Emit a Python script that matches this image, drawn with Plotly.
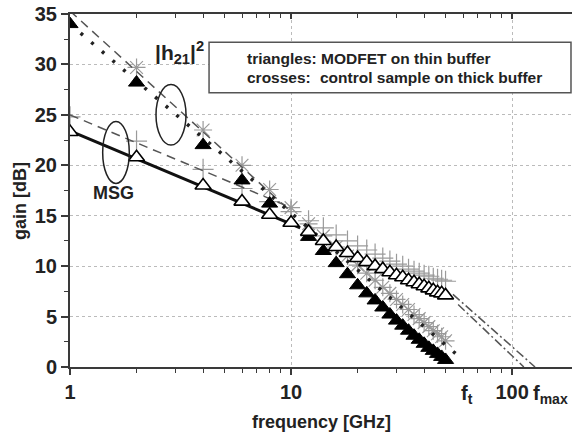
import plotly.graph_objects as go

# ---------------- data ----------------
freq = [1, 2, 4, 6, 8, 10, 12, 14, 16, 18, 20, 22, 24, 26, 28, 30,
        32, 34, 36, 38, 40, 42, 44, 46, 48, 50]
h21_thin = [34.0, 28.2, 22.0, 18.5, 16.2, 14.3, 12.9, 11.5, 10.3, 9.2, 8.1, 7.3, 6.6,
            5.9, 5.2, 4.6, 4.1, 3.6, 3.1, 2.7, 2.3, 1.9, 1.6, 1.3, 1.0, 0.7]
msg_thin = [23.3, 20.8, 18.0, 16.4, 15.1, 14.3, 13.4, 12.5, 11.9, 11.3, 10.8, 10.4, 10.0,
            9.7, 9.4, 9.1, 8.9, 8.6, 8.4, 8.2, 8.0, 7.8, 7.6, 7.4, 7.3, 7.1]
freq_ctrl_h21 = [2, 4, 6, 8, 10, 12, 14, 16, 18, 20, 22, 24, 26, 28, 30,
                 32, 34, 36, 38, 40, 42, 44, 46, 48, 50]
h21_ctrl = [29.7, 23.5, 20.0, 17.6, 15.8, 14.2, 13.0, 11.9, 11.0, 10.1, 9.3, 8.6, 7.9,
            7.3, 6.7, 6.2, 5.7, 5.2, 4.8, 4.4, 4.0, 3.6, 3.3, 3.0, 2.6]
msg_ctrl = [24.8, 22.4, 19.6, 17.7, 16.4, 15.4, 14.5, 13.8, 13.1, 12.5, 12.0, 11.6, 11.2,
            10.8, 10.5, 10.2, 10.0, 9.7, 9.5, 9.3, 9.1, 9.0, 8.8, 8.7, 8.6, 8.5]

# fit / extrapolation lines (endpoints)
fit_msg_thin_x, fit_msg_thin_y = [1, 11], [23.4, 13.8]
fit_h21_thin_x, fit_h21_thin_y = [1, 60], [34.0, 0.7]
fit_h21_ctrl_x, fit_h21_ctrl_y = [1, 10], [35.3, 15.4]
fit_msg_ctrl_x, fit_msg_ctrl_y = [1, 10], [25.0, 15.8]
ext_fmax1_x, ext_fmax1_y = [54, 127], [7.2, 0.0]
ext_fmax2_x, ext_fmax2_y = [57, 113], [6.2, 0.0]

x_ticks = [1, 10, 100]
x_ticklabels = ["1", "10", "100"]
y_ticks = [0, 5, 10, 15, 20, 25, 30, 35]

FONT = "Liberation Sans, Arial, sans-serif"
AX = "#3a3a3a"
GREY = "#9a9a9a"
TXT = "#222"

fig = go.Figure()

# crosses (control sample)
fig.add_trace(go.Scatter(x=freq, y=msg_ctrl, mode="markers",
                         marker=dict(symbol="cross-thin-open", size=15, color=GREY,
                                     line=dict(color=GREY, width=1.2)),
                         showlegend=False))
fig.add_trace(go.Scatter(x=freq_ctrl_h21, y=h21_ctrl, mode="markers",
                         marker=dict(symbol="asterisk-open", size=15, color=GREY,
                                     line=dict(color=GREY, width=1.2)),
                         showlegend=False))

# fit lines
fig.add_trace(go.Scatter(x=fit_h21_ctrl_x, y=fit_h21_ctrl_y, mode="lines",
                         line=dict(color="#555", width=1.5, dash="9px,6px"), showlegend=False))
fig.add_trace(go.Scatter(x=fit_msg_ctrl_x, y=fit_msg_ctrl_y, mode="lines",
                         line=dict(color="#555", width=1.5, dash="9px,6px"), showlegend=False))
fig.add_trace(go.Scatter(x=fit_h21_thin_x, y=fit_h21_thin_y, mode="lines",
                         line=dict(color="#222", width=3.5, dash="3px,11px"), showlegend=False))
fig.add_trace(go.Scatter(x=fit_msg_thin_x, y=fit_msg_thin_y, mode="lines",
                         line=dict(color="#111", width=3), showlegend=False))
fig.add_trace(go.Scatter(x=ext_fmax1_x, y=ext_fmax1_y, mode="lines",
                         line=dict(color="#555", width=1.5, dash="9px,3px,2px,3px"), showlegend=False))
fig.add_trace(go.Scatter(x=ext_fmax2_x, y=ext_fmax2_y, mode="lines",
                         line=dict(color="#555", width=1.5, dash="9px,3px,2px,3px"), showlegend=False))

# triangles (MODFET on thin buffer)
fig.add_trace(go.Scatter(x=freq, y=h21_thin, mode="markers",
                         marker=dict(symbol="triangle-up", size=14, color="black",
                                     line=dict(color="black", width=1)),
                         showlegend=False))
fig.add_trace(go.Scatter(x=freq, y=msg_thin, mode="markers",
                         marker=dict(symbol="triangle-up", size=14, color="white",
                                     line=dict(color="black", width=1.6)),
                         showlegend=False))

# invisible trace for the top axis
fig.add_trace(go.Scatter(x=[1, 100], y=[0, 0], xaxis="x2", mode="markers",
                         marker=dict(opacity=0), showlegend=False, hoverinfo="skip"))

xr = [0, 2.271]
fig.update_layout(
    width=572, height=435,
    margin=dict(l=70, r=0, t=14, b=68, autoexpand=False),
    paper_bgcolor="white", plot_bgcolor="white",
    font=dict(family=FONT, color=TXT),
    xaxis=dict(type="log", range=xr, tickvals=x_ticks, ticktext=x_ticklabels,
               ticks="outside", ticklen=6, tickwidth=1.5, tickcolor=AX, automargin=False,
               showline=True, linecolor=AX, linewidth=2,
               showgrid=True, gridcolor="#bbbbbb", griddash="dot", gridwidth=1,
               tickfont=dict(size=20, family=FONT, color=TXT, weight="bold"),
               minor=dict(ticks="outside", ticklen=4, tickwidth=1.2, tickcolor=AX,
                          dtick="D1", showgrid=False),
               zeroline=False),
    xaxis2=dict(type="log", range=xr, overlaying="x", side="top", automargin=False,
                ticks="inside", ticklen=5, tickwidth=1.5, tickcolor=AX,
                tickvals=x_ticks, showticklabels=False,
                showline=True, linecolor=AX, linewidth=2, showgrid=False,
                minor=dict(ticks="inside", ticklen=4, tickwidth=1.2, tickcolor=AX,
                           dtick="D1", showgrid=False)),
    yaxis=dict(range=[0, 35], tickvals=y_ticks, automargin=False,
               ticks="outside", ticklen=7, tickwidth=1.5, tickcolor=AX,
               showline=True, linecolor=AX, linewidth=2,
               showgrid=True, gridcolor="#bbbbbb", griddash="dot", gridwidth=1,
               tickfont=dict(size=20, family=FONT, color=TXT, weight="bold"),
               minor=dict(ticks="outside", ticklen=4, tickwidth=1.2, tickcolor=AX,
                          dtick=2.5, showgrid=False),
               zeroline=False),
    shapes=[
        dict(type="rect", xref="paper", yref="y", x0=0.277, x1=0.998, y0=27.2, y1=32.2,
             line=dict(color="#555", width=1.5), fillcolor="white"),
        dict(type="circle", xref="paper", yref="y", x0=0.0651, x1=0.1181, y0=18.2, y1=24.35,
             line=dict(color="#222", width=1.5)),
        dict(type="circle", xref="paper", yref="y", x0=0.1713, x1=0.2311, y0=22.0, y1=28.0,
             line=dict(color="#222", width=1.5)),
    ],
    annotations=[
        dict(text="<b>triangles:</b>", xref="paper", yref="y",
             x=0.348, y=30.63, xanchor="left", yanchor="middle", showarrow=False,
             font=dict(size=15.5, family=FONT, color=TXT)),
        dict(text="<b>MODFET on thin buffer</b>", xref="paper", yref="y",
             x=0.497, y=30.63, xanchor="left", yanchor="middle", showarrow=False,
             font=dict(size=15.5, family=FONT, color=TXT)),
        dict(text="<b>crosses:</b>", xref="paper", yref="y",
             x=0.348, y=28.75, xanchor="left", yanchor="middle", showarrow=False,
             font=dict(size=15.5, family=FONT, color=TXT)),
        dict(text="<b>control sample on thick buffer</b>", xref="paper", yref="y",
             x=0.494, y=28.75, xanchor="left", yanchor="middle", showarrow=False,
             font=dict(size=15.5, family=FONT, color=TXT)),
        dict(text="<b>|h<sub>21</sub>|<sup>2</sup></b>", xref="paper", yref="y",
             x=0.166, y=31.2, xanchor="left", yanchor="middle", showarrow=False,
             font=dict(size=21, family=FONT, color=TXT)),
        dict(text="<b>MSG</b>", xref="paper", yref="y",
             x=0.0857, y=17.3, xanchor="center", yanchor="middle", showarrow=False,
             font=dict(size=18, family=FONT, color=TXT)),
        dict(text="<b>f<sub>t</sub></b>", xref="paper", yref="paper",
             x=0.775, y=-0.078, xanchor="left", yanchor="middle", showarrow=False,
             font=dict(size=20, family=FONT, color=TXT)),
        dict(text="<b>f<sub>max</sub></b>", xref="paper", yref="paper",
             x=0.918, y=-0.078, xanchor="left", yanchor="middle", showarrow=False,
             font=dict(size=20, family=FONT, color=TXT)),
        dict(text="<b>frequency [GHz]</b>", xref="paper", yref="paper",
             x=0.50, y=-0.155, xanchor="center", yanchor="middle", showarrow=False,
             font=dict(size=18, family=FONT, color=TXT)),
        dict(text="<b>gain [dB]</b>", xref="paper", yref="paper", textangle=-90,
             x=-0.1, y=0.47, xanchor="center", yanchor="middle", showarrow=False,
             font=dict(size=18, family=FONT, color=TXT)),
    ],
)

fig.write_html("out.html", config={"displayModeBar": False},
               post_script="document.body.style.margin='0';document.body.style.overflow='hidden';")
